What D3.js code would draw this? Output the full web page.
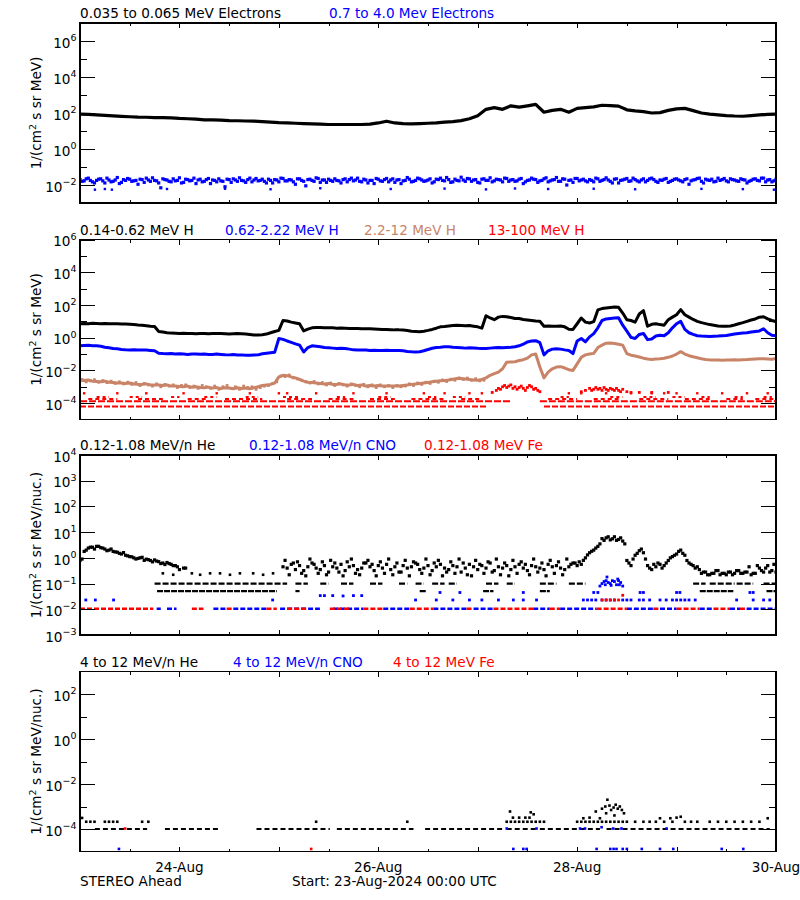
<!DOCTYPE html>
<html><head><meta charset="utf-8">
<script src="https://cdn.jsdelivr.net/npm/d3@7"></script>
<style>
body{margin:0;background:#fff}
svg text{font-family:"DejaVu Sans",sans-serif;font-size:13.6px}
</style></head>
<body><svg id="c" width="800" height="900" style="background:#fff"></svg>
<script>
// ---------------- DATA (hours after 23-Aug-2024 00:00 UTC) ----------------
const xLabelDays = ["24-Aug","26-Aug","28-Aug","30-Aug"];
const xLabelHours = [24,72,120,168];

// Panel 1 : electrons
const titles1 = ["0.035 to 0.065 MeV Electrons","0.7 to 4.0 Mev Electrons"];
// 0.035-0.065 MeV electrons, every 2 h
const elecLow = [87,83,79,74,69,65,62,59,58,56,55,54,50,48,46,42,41,40,38,37,36,35,33,31,29,28,27,26,25,24,23,23,23,23,23,24,28,35,28,26,25,26,27,28,31,33,38,48,71,160,200,160,250,210,250,300,110,140,160,110,180,200,220,270,260,240,150,130,120,100,105,140,170,180,135,100,87,79,72,68,66,71,78,83,87];
// 0.7-4.0 MeV electrons, hourly samples (on the hour and at half past)
const elecHighA = [0.020,0.017,0.024,0.015,0.018,0.022,0.013,0.019,0.016,0.026,0.014,0.018,0.021,0.017,0.011,0.020,0.024,0.016,0.018,0.013,
0.022,0.019,0.015,0.017,0.025,0.014,0.020,0.018,0.012,0.021,0.016,0.023,0.019,0.015,0.017,0.008,0.020,0.022,0.016,0.018,
0.014,0.024,0.019,0.017,0.021,0.013,0.018,0.020,0.015,0.023,0.017,0.019,0.011,0.022,0.016,0.020,0.018,0.025,0.014,0.019,
0.021,0.016,0.018,0.013,0.022,0.020,0.017,0.024,0.015,0.019,0.018,0.012,0.021,0.016,0.023,0.019,0.014,0.020,0.017,0.026,
0.015,0.018,0.022,0.016,0.019,0.013,0.021,0.024,0.017,0.020,0.015,0.018,0.027,0.016,0.022,0.019,0.014,0.021,0.018,0.025,
0.017,0.020,0.015,0.023,0.019,0.016,0.021,0.012,0.018,0.024,0.020,0.017,0.022,0.015,0.019,0.026,0.016,0.021,0.018,0.014,
0.023,0.019,0.017,0.020,0.015,0.022,0.018,0.025,0.016,0.021,0.013,0.019,0.023,0.017,0.020,0.015,0.022,0.018,0.024,0.016,
0.019,0.021,0.014,0.018,0.022,0.017,0.020,0.011,0.019,0.023,0.016,0.021,0.018,0.015,0.024,0.020,0.017,0.022,0.019,
0.016,0.020,0.013,0.018,0.022,0.017,0.024,0.019,0.015,0.021];
const elecHighB = [0.016,0.022,0.018,0.013,0.021,0.017,0.024,0.015,0.019,0.012,0.020,0.023,0.016,0.018,0.021,0.014,0.019,0.025,0.017,0.007,
0.020,0.016,0.022,0.018,0.013,0.021,0.017,0.024,0.019,0.015,0.020,0.012,0.018,0.022,0.016,0.021,0.014,0.019,0.025,0.017,
0.020,0.015,0.023,0.018,0.016,0.021,0.013,0.019,0.024,0.017,0.020,0.015,0.022,0.018,0.009,0.021,0.016,0.023,0.019,0.014,
0.018,0.022,0.017,0.020,0.015,0.024,0.019,0.016,0.021,0.013,0.018,0.023,0.017,0.020,0.015,0.022,0.019,0.012,0.018,0.021,
0.016,0.024,0.019,0.017,0.022,0.015,0.020,0.018,0.026,0.014,0.021,0.017,0.019,0.023,0.016,0.020,0.013,0.022,0.018,0.015,
0.021,0.019,0.024,0.016,0.020,0.017,0.023,0.015,0.019,0.021,0.014,0.018,0.025,0.017,0.020,0.016,0.022,0.010,0.019,0.023,
0.017,0.021,0.015,0.018,0.024,0.016,0.020,0.019,0.013,0.022,0.018,0.021,0.016,0.024,0.017,0.019,0.015,0.022,0.020,0.014,
0.018,0.023,0.016,0.021,0.019,0.015,0.022,0.017,0.020,0.024,0.013,0.019,0.021,0.016,0.018,0.023,0.015,0.020,0.017,0.022,
0.019,0.016,0.021,0.018,0.024,0.015,0.020,0.017];
const elecHighLow = [[3.6,0.0055],[6,0.006],[7.7,0.0055],[21,0.006],[35,0.0062],[46,0.0058],[58,0.0066],[75,0.006],[88,0.0063],[98,0.0057],[105,0.0064],[113,0.006],[124,0.0062],[134,0.0058],[150,0.0061],[160,0.0059],[167.5,0.0055]];

// Panel 2 : protons (hourly)
const titles2 = ["0.14-0.62 MeV H","0.62-2.22 MeV H","2.2-12 MeV H","13-100 MeV H"];
const protonLow = [7.2,7.4,7.2,7.6,7.4,7.2,7.4,7.2,7.2,7.1,6.9,6.9,
6.6,6.3,6.0,5.8,5.4,5.0,4.8,
2.4,2.2,2.0,1.9,1.86,1.82,1.86,1.82,1.78,1.74,1.78,1.82,1.74,1.78,1.82,1.78,1.74,1.7,1.74,1.78,1.74,1.7,1.58,1.48,1.45,1.51,
1.66,2.0,2.4,2.8,
11.2,10.5,8.9,7.9,7.1,
2.6,3.3,4.0,4.2,4.2,4.0,4.1,4.0,3.8,3.9,3.8,3.7,3.6,3.7,3.5,3.5,3.5,3.4,3.3,3.2,3.2,3.1,3.0,3.0,
2.9,2.75,2.5,2.4,2.3,2.5,2.8,3.2,3.8,
4.6,4.8,5.2,5.5,5.8,5.6,5.4,5.5,5.0,4.6,3.8,
22,16,12.6,18,20,19,
17,15,14.8,13,12,11.2,10.5,10,
5.0,5.2,5.0,5.0,5.2,4.6,3.3,3.2,
7.1,16,8.9,7.9,9.5,
50,60,66,71,76,72,32,
12.6,11.2,8.9,28,45,
5.0,6.6,7.1,6.3,5.8,
12.6,18,25,52,25,
18,13,10,8.3,7.2,6.3,5.8,
5.2,5.0,5.0,5.2,6.0,
7.1,8.3,10,12,14,18,19,
14,11.2,9.5];
const protonMid = [0.32,0.33,0.34,0.32,0.32,0.30,
0.26,0.24,0.22,0.21,0.19,0.18,
0.178,0.18,0.174,0.178,0.174,0.166,0.158,
0.112,0.107,0.105,0.107,0.100,0.105,0.100,0.095,0.100,0.102,0.098,0.100,0.095,0.093,0.100,0.095,0.091,0.089,0.093,0.087,0.089,0.085,0.083,0.087,0.089,0.105,
0.112,0.12,0.13,
0.89,0.79,0.63,0.52,0.42,0.35,
0.135,0.25,0.32,0.30,0.28,0.25,0.24,0.23,0.22,0.224,0.22,0.20,0.18,0.174,0.178,0.174,0.166,0.17,0.166,0.166,0.17,0.166,0.162,0.166,
0.158,0.145,0.138,0.135,0.138,0.158,0.19,0.224,0.25,
0.26,0.275,0.28,0.26,0.25,0.24,0.23,0.24,0.234,0.224,0.22,
0.22,0.23,0.24,0.25,0.24,0.25,0.26,0.28,0.32,0.40,
0.55,0.63,0.66,0.50,
0.089,0.158,0.20,0.21,0.20,0.18,0.166,0.107,
0.63,0.89,0.56,1.12,1.78,
4.0,11.2,14,15,16,16.6,5.8,
2.5,1.05,0.89,1.58,1.82,
0.76,0.83,1.26,1.41,1.32,
2.0,4.0,7.1,10,3.2,
2.0,1.58,1.32,1.26,1.23,1.2,1.23,
1.26,1.32,1.38,1.51,1.66,
1.82,1.9,2.0,2.2,2.4,2.6,3.5,
2.0,1.41,1.32];
const protonHigh = [0.0025,0.0024,0.0026,0.0022,0.0021,0.0020,0.0022,0.0019,0.0018,0.0017,0.0017,0.0016,
0.0017,0.0015,0.0014,0.0014,0.0015,0.0013,0.0013,
0.0013,0.0012,0.0013,0.0011,0.0011,0.00105,0.0010,0.0011,0.00095,0.0010,0.00091,0.00087,0.00095,0.00083,0.00089,0.00079,0.00087,0.00083,0.00076,0.00087,0.00079,0.00083,0.00076,0.00087,0.0010,0.0012,
0.0013,0.0014,0.0017,
0.0040,0.0050,0.0048,0.0040,0.0035,0.0028,
0.0022,0.0019,0.0018,0.0017,0.0016,0.0015,0.0016,0.0014,0.0014,0.0015,0.0013,0.0013,0.0014,0.0012,0.0013,0.0011,0.0012,0.0011,0.0012,0.0011,0.0011,0.0011,0.0011,0.0011,
0.0012,0.0013,0.0014,0.0015,0.0016,0.0017,0.0018,0.0020,0.0022,
0.0023,0.0024,0.0026,0.0029,0.0032,0.0032,0.0030,0.0028,0.0026,0.0025,0.0028,
0.0035,0.0050,0.0063,0.0079,0.0126,0.032,
0.033,0.034,0.040,0.045,0.056,0.089,0.10,0.016,
0.0035,0.0079,0.0126,0.016,0.017,0.014,0.011,0.010,
0.025,0.063,0.089,0.10,0.11,
0.25,0.35,0.46,0.48,0.44,0.40,0.35,
0.107,0.085,0.076,0.066,0.056,
0.050,0.047,0.050,0.052,0.055,
0.063,0.076,0.10,0.14,0.10,
0.079,0.068,0.060,0.052,0.047,0.044,0.043,
0.043,0.042,0.043,0.044,0.045,
0.044,0.045,0.046,0.048,0.050,0.051,0.052,
0.050,0.048,0.054];
// scatter of the 2.2-12 MeV channel around its trend (half-past samples, first four days)
const protonHighB = [0.0028,0.0020,0.0023,0.0027,0.0019,0.0024,0.0018,0.0022,0.0016,0.0020,0.0015,0.0019,
0.0014,0.0018,0.0012,0.0016,0.0013,0.0011,0.0015,
0.0010,0.0014,0.0011,0.0013,0.0009,0.0012,0.0013,0.0009,0.0011,0.0008,0.0012,0.0010,0.0008,0.0011,0.0007,0.0010,0.0012,0.0008,0.0010,0.0007,0.0011,0.0009,0.0010,0.0007,0.0009,0.0011,
0.0012,0.0016,0.0020,
0.0045,0.0042,0.0052,0.0035,0.0030,0.0025,
0.0020,0.0017,0.0021,0.0015,0.0018,0.0013,0.0017,0.0012,0.0016,0.0013,0.0011,0.0015,0.0012,0.0010,0.0014,0.0010,0.0013,0.0009,0.0013,0.0010,0.0012,0.0009,0.0012,0.0010,
0.0011,0.0015,0.0012,0.0017,0.0014,0.0019,0.0016,0.0022,0.0019,
0.0026,0.0021,0.0029,0.0025,0.0035,0.0028,0.0034,0.0025,0.0031,0.0023,0.0025];
// 13-100 MeV H: one-count levels and the hours where they appear
const p13Levels = [6.2e-5,1.3e-4,1.8e-4,2.4e-4];
const p13Row1 = [[0,98],[112,168]];
const p13Row2 = [[0,104],[111,168]];
const p13Row3 = [[2,9],[14,20],[26,31],[35,44],[50,56],[60,66],[70,76],[80,88],[92,97],[113,120],[124,130],[135,142],[146,152],[156,160],[163,168]];
const p13Row4 = [[4,7],[12,15],[22,24],[30,33],[40,43],[49,53],[62,64],[72,75],[84,86],[90,93],[116,118],[128,131],[136,139],[143,146],[150,152],[158,160],[165,167]];
const p13SparseHours = [1,9,16,25,33,41,48,50,57,66,74,83,88,94,97,118,121,127,133,138,141,144,149,155,161,166];
const p13SparseLevel = 4e-4;
const p13Event = [[99.5,4.5e-4],[100.5,6e-4],[101,8e-4],[101.5,7e-4],[102,1.0e-3],[102.5,1.2e-3],[103,9e-4],[103.5,1.1e-3],[104,1.3e-3],[104.5,8e-4],[105,1.0e-3],[105.5,7e-4],[106,9e-4],[106.5,1.1e-3],[107,8e-4],[107.5,6e-4],[108,9e-4],[108.5,1.2e-3],[109,1.0e-3],[109.5,7e-4],[110,8e-4],[110.5,6e-4],[111,5e-4],
[121,5e-4],[122,6e-4],[123,8e-4],[123.5,6e-4],[124,7e-4],[124.5,9e-4],[125,7e-4],[125.5,8e-4],[126,6e-4],[126.5,9e-4],[127,7e-4],[127.5,6e-4],[128,8e-4],[128.5,7e-4],[129,6e-4],[129.5,8e-4],[130,6e-4],[130.5,5e-4],[131,7e-4],[132,5e-4],[133,4.5e-4],[135,4.5e-4],[138,4.5e-4],[142,4.5e-4]];

// Panel 3 : 0.12-1.08 MeV/n ions
const titles3 = ["0.12-1.08 MeV/n He","0.12-1.08 MeV/n CNO","0.12-1.08 MeV Fe"];
const heLowA = [0.79,1.78,2.4,2.6,2.8,2.5,2.2,2.0,1.78,1.66,1.41,1.26,1.12,1.0,0.95,1.05,0.89,0.79,0.83,0.71,0.63,0.66,0.56,0.50,0.35,0.40,
null,null,null,null,null,null,null,null,null,null,null,null,null,null,null,null,null,null,null,null,null,null,null,
0.45,0.40,0.56,0.35,0.50,0.32,0.45,0.63,0.40,0.35,0.50,0.28,0.45,0.40,0.56,0.32,0.45,0.50,0.35,0.40,
0.63,0.45,0.32,0.50,0.40,0.56,0.35,0.45,0.28,0.50,0.40,0.45,0.63,0.35,0.40,0.50,0.32,0.45,0.56,0.40,
0.35,0.50,0.45,0.28,0.40,0.56,0.45,0.35,0.50,0.40,0.63,0.32,0.45,0.40,0.50,0.35,0.45,0.56,0.40,0.32,
0.50,0.45,0.40,0.35,0.56,0.45,0.50,0.40,0.35,0.45,0.63,0.50,0.56,
1.0,1.58,2.0,2.8,
5.6,6.0,5.0,6.6,5.2,4.5,
0.79,0.50,
1.26,1.9,1.58,
0.50,0.35,0.45,0.56,0.50,
0.79,1.12,1.41,2.0,1.26,
0.63,0.50,0.45,
0.25,0.28,0.22,0.25,0.32,0.25,0.22,0.28,0.25,0.32,0.25,0.28,0.22,0.25,0.40,0.28,0.50,0.32,0.28];
const heLowB = [0.9,2.0,2.6,2.2,2.8,2.4,1.9,2.2,1.7,1.5,1.6,1.2,1.1,0.9,1.0,0.8,0.85,0.7,0.75,0.6,0.55,0.6,0.5,0.45,null,0.4,
null,null,null,null,null,null,null,null,null,null,null,null,null,null,null,null,null,null,null,null,null,null,null,
0.80,0.22,0.63,0.70,0.25,0.20,0.90,0.56,0.25,0.70,0.22,0.80,0.63,0.28,0.20,0.70,0.90,0.25,0.22,0.63,
0.80,0.56,0.20,0.70,0.25,0.90,0.22,0.63,0.28,0.80,0.20,0.70,0.56,0.25,0.90,0.22,0.63,0.80,0.20,0.28,
0.70,0.25,0.90,0.63,0.22,0.20,0.80,0.56,0.25,0.70,0.28,0.90,0.22,0.63,0.20,0.80,0.25,0.70,0.56,0.22,
0.90,0.28,0.63,0.20,0.80,0.25,0.70,0.22,0.90,0.56,0.63,0.70,0.80,
1.3,1.8,2.4,3.5,
4.8,6.6,5.5,4.8,6.0,3.5,
0.63,0.9,
1.5,2.2,0.9,
0.40,0.56,0.63,0.40,0.63,
1.0,1.26,1.78,1.5,0.79,
0.56,0.40,0.35,
0.28,0.22,0.25,0.32,0.22,0.25,0.28,0.22,0.32,0.25,0.28,0.45,0.25,0.50,0.32,0.40,0.28,0.56];
const heLowSparse = [[20,0.25],[22.5,0.22],[27,0.25],[29,0.22],[31.4,0.25],[33.8,0.25],[36.2,0.22],[38.6,0.25],[41.8,0.25],[44.2,0.22],[46.6,0.25]];
const heLowLevels = [0.10,0.051];
const heLowRow1 = [[18,50],[52,55],[58,60],[63,66],[70,73],[77,79],[81,83],[85,88],[89,91],[98,101],[103,105],[111,115],[118,122],[148,151],[152,158],[158.5,162.5],[165,168]];
const heLowRow2 = [[18.6,47.5],[52,53],[82,83.7],[97.3,99.8],[111,113.4],[149.6,157.7],[165.7,168]];
const oneCountLow = 0.0105;
const cnoLowRow = [[18.5,19.5],[21,23.3],[32.2,35.4],[37,45],[48.3,57.9],[61.1,68.4],[73.2,79.6],[85.3,93.3],[95,99.8],[109.4,113.4],[115.9,124.7],[132,138.4],[140,144],[149.6,152.9],[156.9,159.3],[160.9,168]];
const feLowRow = [[0,17.7],[27,29.8],[35.4,37],[45,47.5],[50,54.7],[60.3,65.2],[68.4,73.2],[79.6,85.3],[93.3,95],[99.8,109.4],[113.4,115.9],[124.7,132],[138.4,140],[144,149.6],[152.9,156.9],[159.3,160.9]];
const cnoLowPts = [[1.4,0.023],[3.7,0.023],[8.1,0.023],[46.5,0.023],[58,0.034],[59,0.034],[61,0.034],[63.5,0.033],[66,0.034],[68,0.034],
[81,0.023],[86,0.023],[90,0.023],[94,0.023],[97,0.023],[101,0.023],[104.6,0.023],[107,0.023],[110.2,0.023],[121.5,0.023],[122.5,0.023],[123.5,0.023],[124.5,0.023],[126,0.023],[127,0.023],[128,0.023],[129,0.023],[131,0.023],[132,0.023],[133,0.023],[135,0.023],[136,0.023],[137.5,0.023],[140,0.023],[141.5,0.023],[143,0.023],[144,0.023],[145,0.023],[146,0.023],[147,0.023],[148.5,0.023],[158.5,0.023],[162.5,0.023],[165,0.023],[166.5,0.023],
[86.9,0.045],[91.7,0.045],[107,0.045],[124,0.045],[125,0.045],[135.2,0.045],[136,0.045],[144,0.045],[144.8,0.045],[161.7,0.045],[162.5,0.045],
[125.5,0.08],[126,0.1],[126.5,0.12],[127,0.13],[127.5,0.11],[128,0.1],[128.5,0.13],[129,0.12],[129.5,0.09],[130,0.13],[130.5,0.11],[131,0.08],[127.2,0.18],[129.8,0.15],[126.8,0.09],[128.2,0.085],[130.2,0.09]];
const feLowPts = [[126,0.023],[127,0.023],[128,0.023],[129,0.023],[130,0.023],[131,0.035]];

// Panel 4 : 4-12 MeV/n ions
const titles4 = ["4 to 12 MeV/n He","4 to 12 MeV/n CNO","4 to 12 MeV Fe"];
const oneCountHigh = 1.0e-4;
const heHighRow = [[3.6,16.2],[20.5,33.8],[42.6,60.3],[62,80.5],[83.3,102.2],[103,110.2],[111,125.5],[127.1,166.5]];
const heHighPts = [[0.5,3.1e-4],[1.5,2.1e-4],[2.5,2.1e-4],[3.5,2.1e-4],[6,2.1e-4],[7,2.1e-4],[8,2.1e-4],[9,2.1e-4],[15,2.1e-4],[16.5,2.1e-4],[57,2.1e-4],[79,2.1e-4],
[103,2.1e-4],[104,2.1e-4],[105,2.1e-4],[106,2.1e-4],[107,2.1e-4],[108,2.1e-4],[109,2.1e-4],[110,2.1e-4],[111,2.1e-4],[104.5,3.2e-4],[106,3.2e-4],[107.5,3.2e-4],[108.5,3.2e-4],[109.5,4.5e-4],[108.8,5.5e-4],[103.8,6e-4],[112,2.1e-4],
[120,2.1e-4],[121,2.1e-4],[122,2.1e-4],[123,2.1e-4],[124,2.1e-4],[125,2.1e-4],[126,2.1e-4],[127,2.1e-4],[128,2.1e-4],[129,2.1e-4],[130,2.1e-4],[131,2.1e-4],[132,2.1e-4],[121.5,3e-4],[123,3.2e-4],[124.5,6e-4],[125.5,3e-4],[126,8e-4],[126.8,1.0e-3],[127.3,2e-3],[127.8,1.1e-3],[128.2,7e-4],[128.8,9e-4],[129.3,1.2e-3],[129.8,8e-4],[130.3,1.0e-3],[130.8,7e-4],[131.3,5e-4],[127,5e-4],[129,4e-4],
[134,2.1e-4],[136,2.1e-4],[137.5,2.1e-4],[139,2.1e-4],[140,3e-4],[141,2.1e-4],[142.5,3e-4],[143,2.1e-4],[144,3.2e-4],[145,3.5e-4],[146,2.1e-4],[147.5,2.1e-4],[149,2.1e-4],[152,2.1e-4],[154,2.1e-4],[156,2.1e-4],[158,2.1e-4],[160,2.1e-4],[162,2.1e-4],[164,2.1e-4],[166,3e-4]];
const cnoHighPts = [[9.4,1.3e-5],[104.6,1.3e-5],[107,1.3e-5],[107.8,1.3e-5],[124.7,1.3e-5],[128,1.3e-5],[128.8,1.3e-5],[129.5,1.3e-5],[131,1.3e-5],[132,1.3e-5],[135.6,1.3e-5],[140,1.3e-5],[143.2,1.3e-5],[154.9,1.3e-5],[160.1,1.3e-5],
[103,1.05e-4],[110.2,1.05e-4],[120.7,1.05e-4],[121.9,1.05e-4],[125.9,1.2e-4],[128.7,1.05e-4],[130.7,1.05e-4],[141.6,1.05e-4]];
const feHighPts = [[10.9,1.05e-4],[55.8,1.3e-5]];

// ---------------- DRAWING ----------------
const BLUE="#0000ff", RED="#ff0000", BROWN="#c98468", BLACK="#000";
const START = Date.UTC(2024,7,23);
const tDate = h => new Date(START + h*3600000);
const svg = d3.select("#c");
svg.append("rect").attr("width",800).attr("height",900).attr("fill","#fff");
const L=80, R=776, H=180;
const x = d3.scaleUtc().domain([tDate(0),tDate(168)]).range([L,R]);

const panels = [
  {top:23,   lo:-3, hi:7, labels:[-2,0,2,4,6], minors:[-1,1,3,5], unit:"MeV)"},
  {top:239.5,lo:-5, hi:6, labels:[-4,-2,0,2,4,6], minors:[-3,-1,1,3,5], unit:"MeV)"},
  {top:455,  lo:-3, hi:4, labels:[-3,-2,-1,0,1,2,3,4], minors:[], unit:"MeV/nuc.)"},
  {top:671.5,lo:-5, hi:3, labels:[-4,-2,0,2], minors:[-3,-1,1], unit:"MeV/nuc.)"}
];
panels.forEach((p,i)=>{
  p.y = d3.scaleLog().domain([10**p.lo,10**p.hi]).range([p.top+H,p.top]);
  svg.append("clipPath").attr("id","clip"+i).append("rect")
    .attr("x",L).attr("y",p.top).attr("width",R-L).attr("height",H);
  p.g = svg.append("g").attr("clip-path",`url(#clip${i})`);
});

const days = d3.utcDay.range(tDate(0), tDate(168.1));
const halfDays = d3.utcHour.range(tDate(0), tDate(168.1), 12).filter(d=>d.getUTCHours()===12);

function frame(p){
  const ax = svg.append("g").attr("shape-rendering","crispEdges");
  const majors = p.labels.map(e=>10**e), minors = p.minors.map(e=>10**e);
  const addAxis = (axis, tx, ty)=>{ const g = ax.append("g").attr("transform",`translate(${tx},${ty})`).call(axis);
    g.select(".domain").remove(); g.selectAll("text").remove(); g.selectAll("line").attr("stroke","#000"); };
  addAxis(d3.axisLeft(p.y).tickValues(majors).tickSize(-15).tickSizeOuter(0), L, 0);
  addAxis(d3.axisRight(p.y).tickValues(majors).tickSize(-15).tickSizeOuter(0), R, 0);
  if(minors.length){
    addAxis(d3.axisLeft(p.y).tickValues(minors).tickSize(-7).tickSizeOuter(0), L, 0);
    addAxis(d3.axisRight(p.y).tickValues(minors).tickSize(-7).tickSizeOuter(0), R, 0);
  }
  addAxis(d3.axisBottom(x).tickValues(days).tickSize(-5).tickSizeOuter(0), 0, p.top+H);
  addAxis(d3.axisBottom(x).tickValues(halfDays).tickSize(-3).tickSizeOuter(0), 0, p.top+H);
  addAxis(d3.axisTop(x).tickValues(days).tickSize(-5).tickSizeOuter(0), 0, p.top);
  addAxis(d3.axisTop(x).tickValues(halfDays).tickSize(-3).tickSizeOuter(0), 0, p.top);
  ax.append("rect").attr("x",L).attr("y",p.top).attr("width",R-L).attr("height",H)
    .attr("fill","none").attr("stroke","#000").attr("stroke-width",1.3);
  // tick labels
  p.labels.forEach(e=>{
    const t = svg.append("text").attr("x",76.5).attr("y",p.y(10**e)+6.7).attr("text-anchor","end").attr("font-size",13.5);
    t.append("tspan").text("10");
    t.append("tspan").attr("dy",-6.5).attr("font-size",9.5).text(e<0?"\u2212"+(-e):String(e));
  });
  // y title
  const yt = svg.append("text").attr("transform",`translate(41,${p.top+H/2}) rotate(-90)`).attr("text-anchor","middle").attr("font-size",13.6);
  yt.append("tspan").text("1/(cm");
  yt.append("tspan").attr("dy",-5.5).attr("font-size",9.5).text("2");
  yt.append("tspan").attr("dy",5.5).text(" s sr "+p.unit);
}
panels.forEach(frame);

function legend(p, items){
  items.forEach(([txt,col,xx])=>svg.append("text").attr("x",xx).attr("y",p.top-5).attr("fill",col).text(txt));
}
legend(panels[0], [[titles1[0],BLACK,80],[titles1[1],BLUE,329]]);
legend(panels[1], [[titles2[0],BLACK,80],[titles2[1],BLUE,225],[titles2[2],BROWN,364],[titles2[3],RED,488]]);
legend(panels[2], [[titles3[0],BLACK,80],[titles3[1],BLUE,249],[titles3[2],RED,424]]);
legend(panels[3], [[titles4[0],BLACK,80],[titles4[1],BLUE,233],[titles4[2],RED,393]]);

// helpers
const series = (vals,t0,dt)=>vals.map((v,i)=>({t:t0+i*dt,v})).filter(d=>d.v!=null);
const pairs = arr=>arr.map(([t,v])=>({t,v}));
function drawLine(p, data, col, w){
  const line = d3.line().x(d=>x(tDate(d.t))).y(d=>p.y(d.v)).curve(d3.curveLinear);
  p.g.append("path").datum(data).attr("d",line).attr("fill","none").attr("stroke",col)
    .attr("stroke-width",w).attr("stroke-linejoin","round").attr("stroke-linecap","square");
}
function drawDots(p, data, col, s){
  p.g.append("g").selectAll("rect").data(data).join("rect")
    .attr("x",d=>x(tDate(d.t))-s/2).attr("y",d=>p.y(d.v)-s/2).attr("width",s).attr("height",s).attr("fill",col);
}
function drawRows(p, intervals, level, col, w, dash){
  p.g.append("g").selectAll("line").data(intervals).join("line")
    .attr("x1",d=>x(tDate(d[0]))).attr("x2",d=>x(tDate(d[1])))
    .attr("y1",p.y(level)).attr("y2",p.y(level))
    .attr("stroke",col).attr("stroke-width",w).attr("stroke-dasharray",dash);
}

// Panel 1
const P1=panels[0], P2=panels[1], P3=panels[2], P4=panels[3];
drawLine(P1, series(elecLow,0,2), BLACK, 3.2);
drawDots(P1, series(elecHighA,0,1), BLUE, 3.2);
drawDots(P1, series(elecHighB,0.5,1), BLUE, 3.2);
drawDots(P1, pairs(elecHighLow), BLUE, 2.4);

// Panel 2
drawRows(P2, p13Row1, p13Levels[0], RED, 2, "6,2");
drawRows(P2, p13Row2, p13Levels[1], RED, 2, "7,2");
drawRows(P2, p13Row3, p13Levels[2], RED, 2, "4,3");
drawRows(P2, p13Row4, p13Levels[3], RED, 2, "3,3");
drawDots(P2, p13SparseHours.map(t=>({t,v:p13SparseLevel})), RED, 2.4);
drawDots(P2, pairs(p13Event), RED, 2.8);
drawDots(P2, series(protonHighB,0.5,1), BROWN, 2.8);
drawLine(P2, series(protonHigh,0,1), BROWN, 3);
drawLine(P2, series(protonMid,0,1), BLUE, 3);
drawLine(P2, series(protonLow,0,1), BLACK, 3);

// Panel 3
drawRows(P3, cnoLowRow, oneCountLow, BLUE, 2.5, "5,2");
drawRows(P3, feLowRow, oneCountLow, RED, 2.5, "5,2");
drawDots(P3, pairs(cnoLowPts), BLUE, 2.8);
drawDots(P3, pairs(feLowPts), RED, 2.8);
drawRows(P3, heLowRow1, heLowLevels[0], BLACK, 2.2, "6,2");
drawRows(P3, heLowRow2, heLowLevels[1], BLACK, 2.2, "6,1");
drawDots(P3, pairs(heLowSparse), BLACK, 2.6);
drawDots(P3, series(heLowA,0,1), BLACK, 3.2);
drawDots(P3, series(heLowB,0.5,1), BLACK, 3.2);

// Panel 4
drawRows(P4, heHighRow, oneCountHigh, BLACK, 2, "5,3");
drawDots(P4, pairs(heHighPts), BLACK, 2.6);
drawDots(P4, pairs(cnoHighPts), BLUE, 2.6);
drawDots(P4, pairs(feHighPts), RED, 2.6);

// bottom labels
xLabelHours.forEach((h,i)=>svg.append("text").attr("x",x(tDate(h))).attr("y",871.5).attr("text-anchor","middle").text(xLabelDays[i]));
svg.append("text").attr("x",80).attr("y",886).text("STEREO Ahead");
svg.append("text").attr("x",292).attr("y",886).text("Start: 23-Aug-2024 00:00 UTC");
</script></body></html>
